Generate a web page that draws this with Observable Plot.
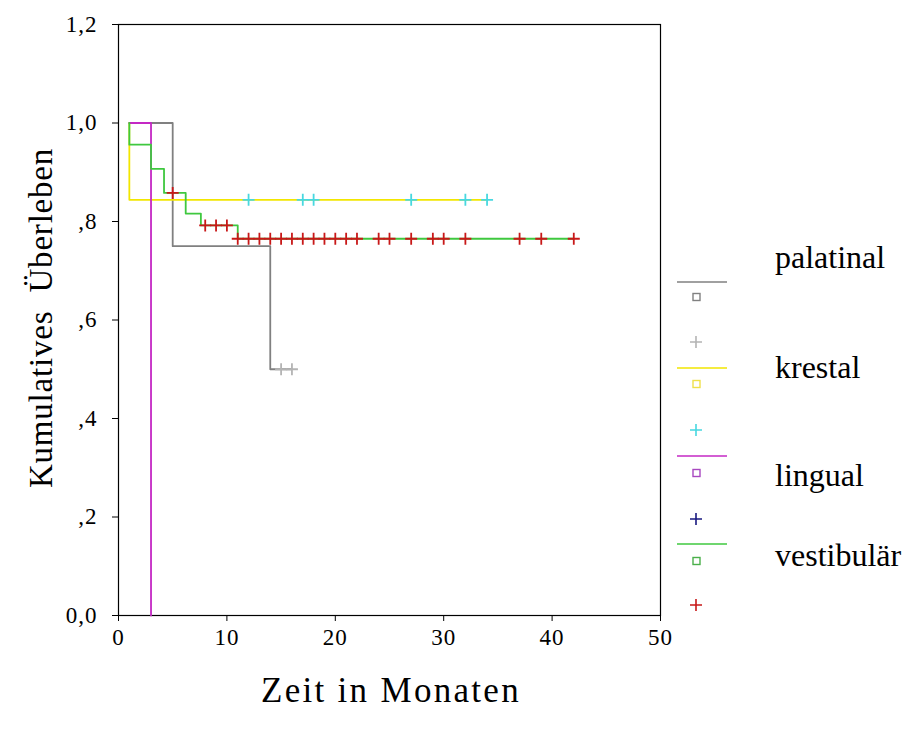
<!DOCTYPE html>
<html>
<head>
<meta charset="utf-8">
<script src="https://cdn.jsdelivr.net/npm/d3@7"></script>
<script src="https://cdn.jsdelivr.net/npm/@observablehq/plot@0.6"></script>
<style>
  html, body { margin: 0; padding: 0; background: #fff; }
  #chart { width: 906px; height: 731px; }
</style>
</head>
<body>
<div id="chart"></div>
<script>
// ---- data ----
const groups = ["palatinal", "krestal", "lingual", "vestibulär"];
const lineColors = ["#808080", "#f2e600", "#c428c4", "#3fc83f"];
const squareColors = ["#808080", "#efe04a", "#a848c0", "#4ab04a"];
const censorColors = ["#b4b4b4", "#48d8e0", "#1a1a80", "#c81818"];

// step-function vertices (time in months, cumulative survival)
const palatinalTime = [1, 5, 14, 16];
const palatinalSurv = [1.0, 0.75, 0.5, 0.5];
const krestalTime = [1, 1, 34];
const krestalSurv = [1.0, 0.844, 0.844];
const lingualTime = [1, 3];
const lingualSurv = [1.0, 0.0];
const vestibularTime = [1, 1, 3, 4.2, 6.2, 7.6, 11, 42];
const vestibularSurv = [1.0, 0.956, 0.907, 0.858, 0.816, 0.792, 0.765, 0.765];

// censored observations (time in months)
const palatinalCensored = [15, 16];
const krestalCensored = [12, 17, 18, 27, 32, 34];
const lingualCensored = [];
const vestibularCensored = [5, 8, 9, 10, 11, 12, 13, 14, 15, 16, 17, 18, 19, 20, 21, 22, 24, 25, 27, 29, 30, 32, 37, 39, 42];

const xTicks = [0, 10, 20, 30, 40, 50];
const xTickLabels = ["0", "10", "20", "30", "40", "50"];
const yTicks = [0, 0.2, 0.4, 0.6, 0.8, 1.0, 1.2];
const yTickLabels = ["0,0", ",2", ",4", ",6", ",8", "1,0", "1,2"];

const xTitle = "Zeit in Monaten";
const yTitle = "Kumulatives  Überleben";

// ---- build tables ----
const curveSets = [
  [palatinalTime, palatinalSurv, palatinalCensored],
  [krestalTime, krestalSurv, krestalCensored],
  [lingualTime, lingualSurv, lingualCensored],
  [vestibularTime, vestibularSurv, vestibularCensored]
];
const curves = [];
const censored = [];
curveSets.forEach(([t, s, c], gi) => {
  t.forEach((tt, i) => curves.push({group: groups[gi], time: tt, surv: s[i]}));
  c.forEach(ct => {
    // survival value of the step function at the censoring time
    let v = s[0];
    for (let i = 0; i < t.length; i++) if (t[i] <= ct) v = s[i];
    censored.push({group: groups[gi], time: ct, surv: v});
  });
});

const plusSymbol = {
  draw(ctx, size) {
    const r = Math.sqrt(size / Math.PI);
    ctx.moveTo(-r, 0); ctx.lineTo(r, 0);
    ctx.moveTo(0, -r); ctx.lineTo(0, r);
  }
};

const font = "'Liberation Serif', 'Times New Roman', serif";

const chart = Plot.plot({
  width: 906,
  height: 731,
  marginLeft: 118,
  marginRight: 246,
  marginTop: 24,
  marginBottom: 116,
  style: {fontFamily: font, background: "#fff", color: "#000"},
  x: {domain: [0, 50]},
  y: {domain: [0, 1.2]},
  color: {domain: groups, range: lineColors},
  marks: [
    Plot.frame({stroke: "#000", strokeWidth: 1.2}),
    Plot.axisX({ticks: xTicks, tickFormat: (d, i) => xTickLabels[i], tickSize: 6, tickPadding: 7,
      fontSize: 23, label: null, stroke: "#000"}),
    Plot.axisY({ticks: yTicks, tickFormat: (d, i) => yTickLabels[i], tickSize: 6, tickPadding: 15,
      fontSize: 23, label: null, stroke: "#000"}),
    Plot.line(curves, {x: "time", y: "surv", z: "group", stroke: "group", curve: "step-after", strokeWidth: 1.8}),
    Plot.dot(censored, {x: "time", y: "surv", symbol: plusSymbol, r: 6, fill: "none",
      stroke: d => censorColors[groups.indexOf(d.group)], strokeWidth: 1.8})
  ]
});
document.getElementById("chart").appendChild(chart);

// ---- titles and legend ----
const svg = d3.select(chart);
svg.selectAll("g[aria-label='x-axis tick label'] text, g[aria-label='y-axis tick label'] text")
  .attr("letter-spacing", 1);
svg.append("text").text(xTitle)
  .attr("x", 391).attr("y", 702).attr("text-anchor", "middle")
  .attr("font-family", font).attr("font-size", 35).attr("letter-spacing", 2.3).attr("fill", "#000");
svg.append("text").text(yTitle)
  .attr("transform", "translate(52,318) rotate(-90)").attr("text-anchor", "middle")
  .attr("font-family", font).attr("font-size", 33).attr("letter-spacing", 0.8).attr("fill", "#000")
  .style("white-space", "pre");

const legendLineY = [282, 368, 456, 544];
const legendSquareY = [297, 384, 473, 561];
const legendPlusY = [342, 430, 519, 605];
const legendTextY = [268, 378, 486, 566];
groups.forEach((g, i) => {
  svg.append("line").attr("x1", 677).attr("x2", 727).attr("y1", legendLineY[i]).attr("y2", legendLineY[i])
    .attr("stroke", lineColors[i]).attr("stroke-width", 1.6);
  svg.append("rect").attr("x", 693).attr("y", legendSquareY[i] - 3.5).attr("width", 7).attr("height", 7)
    .attr("fill", "none").attr("stroke", squareColors[i]).attr("stroke-width", 1.4);
  svg.append("path").attr("d", `M${690},${legendPlusY[i]}h12M${696},${legendPlusY[i] - 6}v12`)
    .attr("stroke", censorColors[i]).attr("stroke-width", 1.6).attr("fill", "none");
  svg.append("text").text(g).attr("x", 775).attr("y", legendTextY[i]).attr("text-anchor", "start")
    .attr("font-family", font).attr("font-size", 32).attr("fill", "#000");
});
</script>
</body>
</html>
